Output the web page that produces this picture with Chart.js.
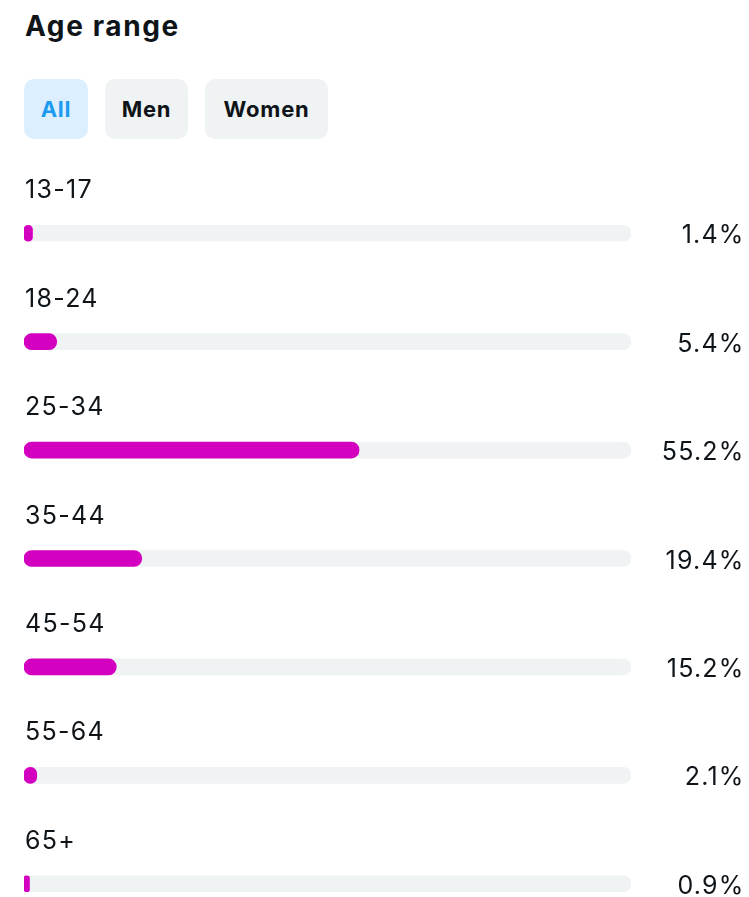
<!DOCTYPE html>
<html>
<head>
<meta charset="utf-8">
<script src="https://cdn.jsdelivr.net/npm/chart.js@4/dist/chart.umd.min.js"></script>
<style>
html,body{margin:0;padding:0;background:#fff;overflow:hidden;width:749px;height:897px;}
body{font-family:Inter,"Noto Sans",sans-serif;color:#0f1419;position:relative;}
h1{position:absolute;left:25px;top:9px;margin:0;font-size:28px;font-weight:700;letter-spacing:1.6px;}
.tab{position:absolute;top:79px;height:60px;border-radius:10px;background:#eff3f4;font-size:22px;font-weight:700;letter-spacing:0.8px;display:flex;align-items:center;justify-content:center;}
.tab.on{background:#dcefff;color:#1d9bf0;}
#wrap{position:absolute;left:0;top:150px;width:749px;height:800px;}
</style>
</head>
<body>
<h1>Age range</h1>
<div class="tab on" style="left:24px;width:64px;">All</div>
<div class="tab" style="left:105px;width:83px;">Men</div>
<div class="tab" style="left:205px;width:123px;">Women</div>
<div id="wrap"><canvas id="ageChart"></canvas></div>
<script>
const ages=["13-17","18-24","25-34","35-44","45-54","55-64","65+"];
const shares=[1.4,5.4,55.2,19.4,15.2,2.1,0.9];
const track=[100,100,100,100,100,100,100];

const rowText={
id:"rowText",
afterDatasetsDraw(chart){
const ctx=chart.ctx;
const y=chart.scales.y;
const left=chart.chartArea.left;
ctx.save();
ctx.fillStyle="#0f1419";
ctx.font="400 25px Inter, 'Noto Sans', sans-serif";
ages.forEach((a,i)=>{
const cy=y.getPixelForValue(i);
ctx.textAlign="left";
ctx.textBaseline="alphabetic";
ctx.letterSpacing="1.3px";
ctx.fillText(a,left+1,cy-35);
ctx.textAlign="right";
ctx.letterSpacing="1.2px";
ctx.fillText(shares[i].toFixed(1)+"%",744.5,cy+10);
});
ctx.restore();
}
};

new Chart(document.getElementById("ageChart"),{
type:"bar",
data:{
labels:ages,
datasets:[
{data:shares,backgroundColor:"#d400c0",borderRadius:8,borderSkipped:false,barThickness:16,grouped:false,order:0},
{data:track,backgroundColor:"#eff3f4",borderRadius:8,borderSkipped:false,barThickness:16,grouped:false,order:1}
]
},
options:{
indexAxis:"y",
responsive:true,
maintainAspectRatio:false,
animation:false,
layout:{padding:{left:24,right:118,top:29,bottom:12}},
plugins:{legend:{display:false},tooltip:{enabled:false}},
scales:{
x:{min:0,max:100,display:false},
y:{display:false}
}
},
plugins:[rowText]
});
</script>
</body>
</html>
